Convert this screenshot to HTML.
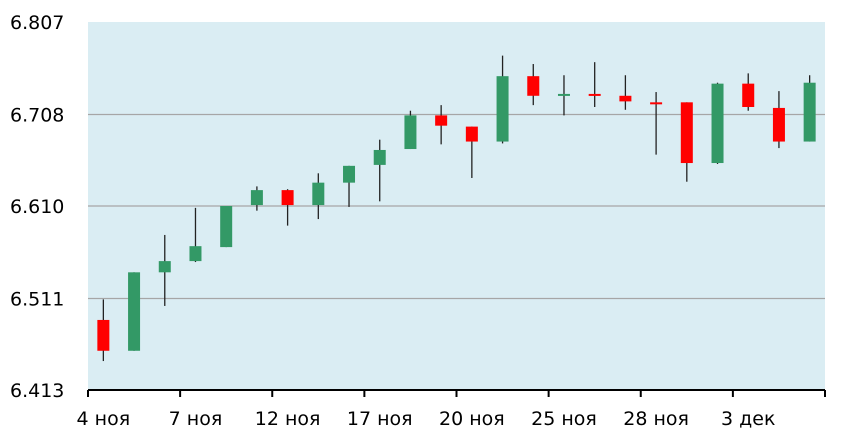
<!DOCTYPE html>
<html><head><meta charset="utf-8"><style>
body{margin:0;background:#fff;}
svg{display:block;font-family:"DejaVu Sans","Liberation Sans",sans-serif;}
</style></head><body>
<svg id="chart" width="853" height="445" viewBox="0 0 853 445">
<rect x="88" y="22" width="737" height="368" fill="#daedf3"/>
<g id="grid"></g><g id="candles"></g><g id="axes"></g>
</svg>
<script>
const dates=["4 ноя","","","7 ноя","","","12 ноя","","","17 ноя","","","20 ноя","","","25 ноя","","","28 ноя","","","3 дек","",""];
const openV =[6.488,6.455,6.539,6.551,6.566,6.611,6.627,6.611,6.635,6.654,6.671,6.707,6.695,6.679,6.749,6.729,6.730,6.728,6.721,6.721,6.656,6.741,6.715,6.679];
const closeV=[6.455,6.539,6.551,6.567,6.610,6.627,6.611,6.635,6.653,6.670,6.707,6.696,6.679,6.749,6.728,6.730,6.729,6.722,6.720,6.656,6.741,6.716,6.679,6.742];
const highV =[6.510,6.539,6.579,6.608,6.610,6.631,6.628,6.645,6.653,6.681,6.712,6.718,6.695,6.771,6.762,6.750,6.764,6.750,6.732,6.721,6.742,6.752,6.733,6.750];
const lowV  =[6.444,6.455,6.503,6.550,6.566,6.605,6.589,6.596,6.609,6.615,6.671,6.676,6.640,6.677,6.718,6.707,6.716,6.713,6.665,6.636,6.655,6.712,6.672,6.679];
const yTicks=[6.413,6.511,6.610,6.708,6.807];
const NS="http://www.w3.org/2000/svg";
const X0=88,X1=825,Y0=390,Y1=22,yMin=6.413,yMax=6.807;
const step=(X1-X0)/dates.length;
function xS(i){return X0+step*(i+0.5);}
function yS(v){return Y0-(v-yMin)/(yMax-yMin)*(Y0-Y1);}
function mk(tag,attrs,parent){const e=document.createElementNS(NS,tag);for(const k in attrs)e.setAttribute(k,attrs[k]);parent.appendChild(e);return e;}
const grid=document.getElementById('grid'),cg=document.getElementById('candles'),ax=document.getElementById('axes');
yTicks.forEach((t,i)=>{
  const y=yS(t);
  if(i>0&&i<yTicks.length-1){const l=mk('line',{x1:X0,x2:X1,y1:y,y2:y,stroke:'#a6a6a6','stroke-width':1.2},grid);
  
  }
  const tx=mk('text',{x:10,y:y+7,'font-size':19,fill:'#000'},ax);
  tx.textContent=t.toFixed(3);
  
  
});
openV.forEach((o,i)=>{
  const c=closeV[i],x=xS(i),up=c>=o,col=up?'#339966':'#ff0000';
  const w=mk('line',{x1:x,x2:x,y1:yS(highV[i]),y2:yS(lowV[i]),stroke:'#222','stroke-width':1.3},cg);
  
  
  const top=yS(Math.max(o,c)),h=Math.max(2,Math.abs(yS(o)-yS(c)));
  const b=mk('rect',{x:x-6,y:top,width:12,height:h,fill:col},cg);
  
  
});
const axl=mk('line',{x1:X0,x2:X1,y1:Y0,y2:Y0,stroke:'#000','stroke-width':2},ax);


for(let i=0;i<=dates.length;i+=3){
  const x=X0+step*i;
  const t=mk('line',{x1:x,x2:x,y1:Y0,y2:Y0+7,stroke:'#000','stroke-width':2},ax);
  
  
}
dates.forEach((d,i)=>{
  if(!d)return;
  const t=mk('text',{x:xS(i),y:425,'font-size':19,'text-anchor':'middle',fill:'#000'},ax);
  t.textContent=d;
  
  
});
</script>
</body></html>
